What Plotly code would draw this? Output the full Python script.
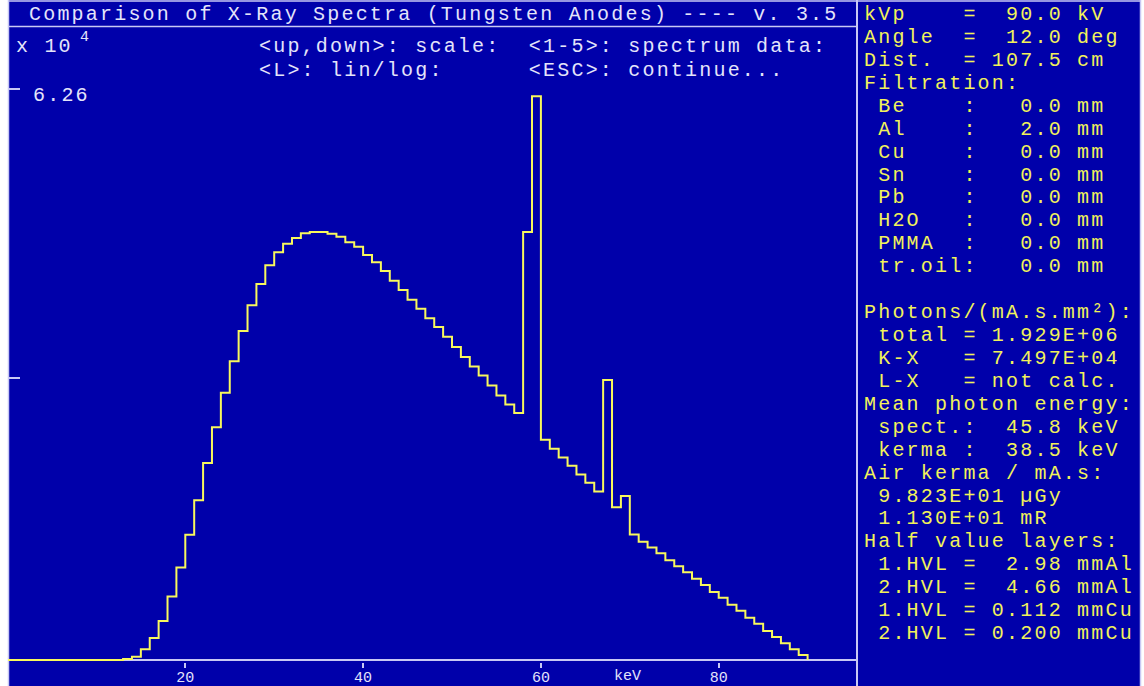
import plotly.graph_objects as go

W, H = 1144, 686

# ---------------- data ----------------
energy_keV = list(range(0, 91))  # bin edges (keV); last point closes the histogram
photons_e4 = [
    0, 0, 0, 0, 0, 0, 0, 0, 0, 0, 0, 0, 0,
    0.010, 0.036, 0.117, 0.241, 0.428, 0.696, 1.014, 1.374, 1.751, 2.160,
    2.551, 2.930, 3.275, 3.607, 3.889, 4.122, 4.327, 4.470, 4.564, 4.626,
    4.678, 4.692, 4.692, 4.674, 4.641, 4.579, 4.531, 4.440, 4.360, 4.265,
    4.158, 4.056, 3.950, 3.851, 3.746, 3.651, 3.544, 3.431, 3.322, 3.218,
    3.119, 3.010, 2.901, 2.802, 2.708, 4.693, 6.181, 2.414, 2.315, 2.221,
    2.130, 2.033, 1.942, 1.847, 3.071, 1.674, 1.798, 1.375, 1.296, 1.233,
    1.171, 1.094, 1.027, 0.961, 0.891, 0.822, 0.746, 0.683, 0.606, 0.540,
    0.464, 0.398, 0.318, 0.252, 0.183, 0.117, 0.055,
    0,
]
x_tick_vals = [20, 40, 60, 80]
x_tick_text = ["20", "40", "60", "80"]
y_tick_vals = [3.09, 6.26]
y_tick_text = ["", "6.26"]

title_text = "Comparison of X-Ray Spectra (Tungsten Anodes) ---- v. 3.5"
help_rows = [
    "<up,down>: scale:  <1-5>: spectrum data:",
    "<L>: lin/log:      <ESC>: continue...",
]
info_rows = [
    "kVp    =  90.0 kV",
    "Angle  =  12.0 deg",
    "Dist.  = 107.5 cm",
    "Filtration:",
    " Be    :   0.0 mm",
    " Al    :   2.0 mm",
    " Cu    :   0.0 mm",
    " Sn    :   0.0 mm",
    " Pb    :   0.0 mm",
    " H2O   :   0.0 mm",
    " PMMA  :   0.0 mm",
    " tr.oil:   0.0 mm",
    "",
    "Photons/(mA.s.mm\u00b2):",
    " total = 1.929E+06",
    " K-X   = 7.497E+04",
    " L-X   = not calc.",
    "Mean photon energy:",
    " spect.:  45.8 keV",
    " kerma :  38.5 keV",
    "Air kerma / mA.s:",
    " 9.823E+01 \u00b5Gy",
    " 1.130E+01 mR",
    "Half value layers:",
    " 1.HVL =  2.98 mmAl",
    " 2.HVL =  4.66 mmAl",
    " 1.HVL = 0.112 mmCu",
    " 2.HVL = 0.200 mmCu",
]

# ---------------- style ----------------
BLUE = "#0000AA"
LAV = "#C8C8F4"
WHITE_TXT = "#E4E4FA"
YEL_TXT = "#F2F25A"
YEL_LINE = "#F8F85C"
MONO = "Liberation Mono, DejaVu Sans Mono, monospace"
BIG = 20
LS = 2.2


def esc(s):
    return s.replace("&", "&amp;").replace("<", "&lt;").replace(">", "&gt;")


def big(s, ls=LS):
    t = esc(s).replace(" ", "\u00a0")
    return f'<span style="letter-spacing:{ls}px">{t}</span>'


# page pixel -> paper coordinates
def px(x):
    return x / W


def py(y):
    return 1 - y / H


# plot geometry (pixels)
X_LEFT, X_RIGHT = 8.0, 856.0
KEV0_PX, PX_PER_KEV = 7.5, 8.89
Y_ZERO_PX, Y_TOP_PX, Y_BOTTOM_PX = 660.0, 30.0, 661.8
UNIT_PER_PX = 6.26 / 571.0

x_range = [(X_LEFT - KEV0_PX) / PX_PER_KEV, (X_RIGHT - KEV0_PX) / PX_PER_KEV]
y_range = [-(Y_BOTTOM_PX - Y_ZERO_PX) * UNIT_PER_PX, (Y_ZERO_PX - Y_TOP_PX) * UNIT_PER_PX]

fig = go.Figure()
fig.add_trace(go.Scatter(
    x=energy_keV, y=photons_e4, mode="lines",
    line=dict(shape="hv", color=YEL_LINE, width=2),
    hoverinfo="x+y", showlegend=False,
))

shapes = [
    dict(type="rect", xref="paper", yref="paper", x0=px(8), x1=px(857), y0=0, y1=1,
         fillcolor=BLUE, line=dict(width=0), layer="below"),
    dict(type="rect", xref="paper", yref="paper", x0=px(857), x1=px(1141), y0=0, y1=1,
         fillcolor=BLUE, line=dict(width=0), layer="below"),
]
for (x0, y0, x1, y1, w) in [
    (8, 1, 1141, 1, 1.5),
    (8, 26.5, 857, 26.5, 1.5),
    (8.5, 0, 8.5, 686, 1.5),
    (857, 0, 857, 686, 2),
    (1140.5, 0, 1140.5, 686, 1.5),
]:
    shapes.append(dict(type="line", xref="paper", yref="paper",
                       x0=px(x0), x1=px(x1), y0=py(y0), y1=py(y1),
                       line=dict(color=LAV, width=w), layer="below"))

ann = []


def add_text(x, y, s, color, size=BIG, raw=False):
    ann.append(dict(x=px(x), y=py(y), xref="paper", yref="paper",
                    text=s if raw else big(s), showarrow=False,
                    xanchor="left", yanchor="middle",
                    font=dict(family=MONO, size=size, color=color)))


add_text(27, 15, title_text, WHITE_TXT)
add_text(14, 46, "x 10", WHITE_TXT)
add_text(78, 37, "4", WHITE_TXT, size=15, raw=True)
add_text(257, 46, help_rows[0], WHITE_TXT)
add_text(257, 70, help_rows[1], WHITE_TXT)
add_text(612, 676, "keV", WHITE_TXT, size=15, raw=True)

for i, row in enumerate(info_rows):
    if row:
        add_text(862, 14.5 + 22.93 * i, row, YEL_TXT)

fig.update_layout(
    width=W, height=H,
    margin=dict(l=0, r=0, t=0, b=0, pad=0),
    paper_bgcolor="white",
    plot_bgcolor="rgba(0,0,0,0)",
    showlegend=False,
    shapes=shapes,
    annotations=ann,
    xaxis=dict(
        domain=[px(X_LEFT), px(X_RIGHT)], range=x_range,
        tickvals=x_tick_vals, ticktext=x_tick_text,
        ticks="outside", ticklen=5, tickwidth=1.5, tickcolor=LAV,
        ticklabelstandoff=-4,
        tickfont=dict(family=MONO, size=15, color=WHITE_TXT),
        showgrid=False, zeroline=False, showline=False, automargin=False,
        fixedrange=True,
    ),
    yaxis=dict(
        domain=[py(Y_BOTTOM_PX), py(Y_TOP_PX)], range=y_range,
        tickvals=y_tick_vals, ticktext=[big(t) if t else "" for t in y_tick_text],
        ticks="inside", ticklen=12, tickwidth=1.5, tickcolor=LAV,
        ticklabelposition="inside", ticklabelstandoff=14, ticklabelshift=5,
        tickfont=dict(family=MONO, size=BIG, color=WHITE_TXT),
        showgrid=False, zeroline=True, zerolinecolor=LAV, zerolinewidth=2,
        showline=False, automargin=False, fixedrange=True,
    ),
)

# Place the figure at the page's top-left corner (no default body margin),
# and hide the hover mode bar.
fig.write_html(
    "out.html",
    config={"displayModeBar": False},
    post_script="document.body.style.margin='0px';",
)
